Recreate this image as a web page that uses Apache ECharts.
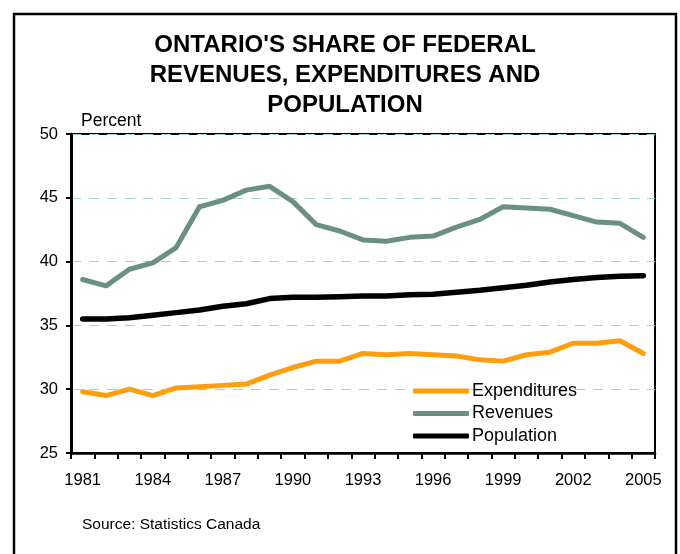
<!DOCTYPE html>
<html>
<head>
<meta charset="utf-8">
<script src="https://cdn.jsdelivr.net/npm/echarts@6/dist/echarts.min.js"></script>
<style>
  html, body { margin: 0; padding: 0; background: #fff; }
  #chart { width: 680px; height: 554px; }
</style>
</head>
<body>
<div id="chart"></div>
<script>
// Ontario's share of federal revenues, expenditures and population, 1981-2005 (percent)
var years = ['1981','1982','1983','1984','1985','1986','1987','1988','1989','1990',
             '1991','1992','1993','1994','1995','1996','1997','1998','1999','2000',
             '2001','2002','2003','2004','2005'];
var expenditures = [29.8, 29.5, 30.0, 29.5, 30.1, 30.2, 30.3, 30.4, 31.1, 31.7,
                    32.2, 32.2, 32.8, 32.7, 32.8, 32.7, 32.6, 32.3, 32.2, 32.7,
                    32.9, 33.6, 33.6, 33.8, 32.8];
var revenues = [38.6, 38.1, 39.4, 39.9, 41.1, 44.3, 44.8, 45.6, 45.9, 44.7,
                42.9, 42.4, 41.7, 41.6, 41.9, 42.0, 42.7, 43.3, 44.3, 44.2,
                44.1, 43.6, 43.1, 43.0, 41.9];
var population = [35.5, 35.5, 35.6, 35.8, 36.0, 36.2, 36.5, 36.7, 37.1, 37.2,
                  37.2, 37.25, 37.3, 37.3, 37.4, 37.45, 37.6, 37.75, 37.95, 38.15,
                  38.4, 38.6, 38.75, 38.85, 38.9];
var seriesNames = ['Expenditures', 'Revenues', 'Population'];
var seriesColors = ['#FF9E0D', '#6A8F85', '#000000'];
var titleLines = ["ONTARIO'S SHARE OF FEDERAL", 'REVENUES, EXPENDITURES AND', 'POPULATION'];
var yAxisName = 'Percent';
var sourceNote = 'Source: Statistics Canada';

var FONT = '"Liberation Sans", Arial, sans-serif';
var chart = echarts.init(document.getElementById('chart'), null, { renderer: 'canvas' });

function lineSeries(name, data, color, width) {
  return {
    name: name,
    type: 'line',
    data: data,
    symbol: 'none',
    silent: true,
    animation: false,
    lineStyle: { color: color, width: width, cap: 'round', join: 'round' },
    itemStyle: { color: color }
  };
}

chart.setOption({
  animation: false,
  backgroundColor: '#fff',
  textStyle: { fontFamily: FONT },
  grid: {
    left: 71, right: 25, top: 134, bottom: 101,
    show: true, borderColor: '#000', borderWidth: 2, backgroundColor: 'transparent'
  },
  legend: {
    orient: 'vertical',
    left: 408, top: 376,
    data: seriesNames,
    icon: 'roundRect',
    itemWidth: 56, itemHeight: 5,
    itemGap: 2.5,
    textStyle: { fontSize: 18, color: '#000', fontFamily: FONT, lineHeight: 20, padding: [0, 0, 0, -2] }
  },
  xAxis: {
    type: 'category',
    data: years,
    boundaryGap: true,
    axisLine: { lineStyle: { color: '#000', width: 2.5 } },
    axisTick: { show: true, interval: 0, length: 6, lineStyle: { color: '#000', width: 2 } },
    axisLabel: { interval: 2, fontSize: 16.5, color: '#000', margin: 19, fontFamily: FONT },
    splitLine: { show: false }
  },
  yAxis: {
    type: 'value',
    min: 25, max: 50, interval: 5,
    name: yAxisName,
    nameLocation: 'end',
    nameGap: 4,
    nameTextStyle: { fontSize: 17.5, color: '#000', align: 'left', padding: [0, 0, 0, 10], fontFamily: FONT },
    axisLine: { show: true, lineStyle: { color: '#000', width: 3 } },
    axisTick: { show: true, length: 5, lineStyle: { color: '#000', width: 2 } },
    axisLabel: { fontSize: 16.5, color: '#000', margin: 13, fontFamily: FONT },
    splitLine: { show: true, lineStyle: { color: '#A9D2C8', width: 1, type: [10, 8] } }
  },
  series: [
    lineSeries(seriesNames[0], expenditures, seriesColors[0], 5),
    lineSeries(seriesNames[1], revenues, seriesColors[1], 5),
    lineSeries(seriesNames[2], population, seriesColors[2], 5.5)
  ],
  graphic: [
    {
      type: 'rect', silent: true,
      shape: { x: 14, y: 14, width: 662, height: 600 },
      style: { fill: 'none', stroke: '#000', lineWidth: 2.5 }
    },
    {
      type: 'text', silent: true,
      x: 345, y: 30,
      style: {
        text: titleLines.join('\n'),
        font: 'bold 24px ' + FONT,
        fill: '#000', align: 'center', verticalAlign: 'top', lineHeight: 30
      }
    },
    {
      type: 'text', silent: true,
      x: 82, y: 517,
      style: { text: sourceNote, font: '15.5px ' + FONT, fill: '#000', align: 'left', verticalAlign: 'top' }
    }
  ]
});
</script>
</body>
</html>
